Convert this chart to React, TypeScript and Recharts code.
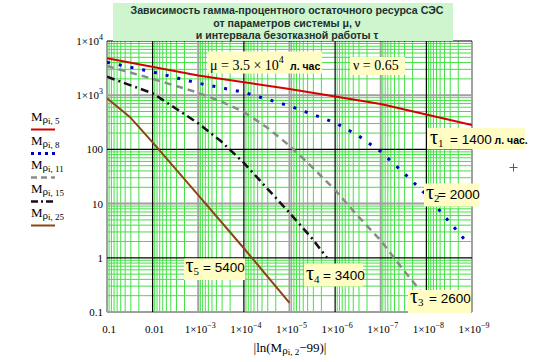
import React from "react";
import { LineChart, Line, XAxis, YAxis, CartesianGrid, Legend } from "recharts";

const SERIF = "'Liberation Serif', 'Times New Roman', serif";
const SANS = "'Liberation Sans', Arial, sans-serif";
const YELLOW = "#fffcc4";

// x = |ln(Mp)|, axis runs from 0.1 (left) down to 1e-9 (right)
const xTau1 = [1e-1, 1e-3, 1e-5, 1e-7, 1e-9];
const mTau1 = [4800, 2300, 1300, 690, 282];

const xTau2 = [1e-1, 1e-2, 1e-3, 1e-4, 1e-5, 1e-6, 3.16e-7, 1e-7, 3.16e-8, 1e-8, 3.16e-9, 1.26e-9];
const mTau2 = [4050, 2690, 1670, 1130, 634, 311, 182, 91, 37, 14.5, 4.6, 1.9];

const xTau3 = [1e-1, 1e-2, 1e-3, 3.16e-4, 1e-4, 3.16e-5, 1e-5, 3.16e-6, 1e-6, 3.16e-7, 1e-7, 3.16e-8, 2.1e-8, 6.0e-9];
const mTau3 = [3470, 2000, 1110, 767, 490, 257, 117, 46.8, 17.8, 5.86, 2.08, 0.59, 0.39, 0.1];

const xTau4 = [1e-1, 1e-2, 3.16e-3, 1e-3, 3.16e-4, 1e-4, 3.16e-5, 1e-5, 3.16e-6, 1.51e-6];
const mTau4 = [2190, 1084, 575, 302, 141, 56.2, 19.5, 6.76, 2.24, 1.0];

const xTau5 = [1e-1, 3.16e-2, 1e-2, 1e-3, 1e-4, 1e-5];
const mTau5 = [877, 398, 135, 14.3, 1.5, 0.148];

const xTicks = [1e-1, 1e-2, 1e-3, 1e-4, 1e-5, 1e-6, 1e-7, 1e-8, 1e-9];
const yTicks = [0.1, 1, 10, 100, 1000, 10000];

const toRows = (xs: number[], ms: number[]) => xs.map((x, i) => ({ x, m: ms[i] }));

const series = [
  { idx: "5", data: toRows(xTau1, mTau1), color: "#d40000", width: 2, dash: undefined, legendDash: undefined },
  { idx: "8", data: toRows(xTau2, mTau2), color: "#0000c8", width: 3, dash: "3 9", legendDash: "3 4" },
  { idx: "11", data: toRows(xTau3, mTau3), color: "#8a8a8a", width: 2.5, dash: "7 5", legendDash: "6 4" },
  { idx: "15", data: toRows(xTau4, mTau4), color: "#1e0a1e", width: 2.5, dash: "8 4 2 4", legendDash: "7 3 2 3" },
  { idx: "25", data: toRows(xTau5, mTau5), color: "#8b4513", width: 2, dash: undefined, legendDash: undefined },
];

// log grid: 2..9 inside every decade
const minors = (from: number, to: number) => {
  const out: number[] = [];
  for (let e = from; e < to; e++) for (let k = 2; k <= 9; k++) out.push(k * Math.pow(10, e));
  return out;
};
const yMinor = minors(-1, 4);
const xMinor = minors(-9, -1);

const XTick = (props: any) => {
  const { x, y, payload } = props;
  const v = payload.value as number;
  const e = Math.round(Math.log10(v));
  return (
    <text x={x + 2} y={y + 21} textAnchor="middle" fontFamily={SERIF} fontSize={11} fill="#000">
      {e >= -2 ? String(v) : "1×10"}
      {e < -2 && <tspan dy={-5} fontSize={8}>{"\u2212" + -e}</tspan>}
    </text>
  );
};

const YTick = (props: any) => {
  const { x, y, payload } = props;
  const v = payload.value as number;
  const e = Math.round(Math.log10(v));
  return (
    <text x={x - 4} y={y + 4} textAnchor="end" fontFamily={SERIF} fontSize={11} fill="#000">
      {e <= 2 ? String(v) : "1×10"}
      {e > 2 && <tspan dy={-5} fontSize={8}>{e}</tspan>}
    </text>
  );
};

const renderLegend = () => (
  <svg width={100} height={240} style={{ display: "block" }}>
    {series.map((s, i) => {
      const ty = 121 + i * 24;
      const ly = 129.5 + i * 24;
      return (
        <g key={s.idx}>
          <text x={31} y={ty} fontFamily={SERIF} fontSize={13} fill="#000">
            M<tspan fontSize={11} dy={2}>ρ</tspan>
            <tspan fontSize={9} dy={1}>{"i, " + s.idx}</tspan>
          </text>
          <line x1={31} x2={55} y1={ly} y2={ly} stroke={s.color} strokeWidth={s.width} strokeDasharray={s.legendDash} />
        </g>
      );
    })}
  </svg>
);

const TauNote = ({ x, y, w, h, tx, vx, base, sub, value, unit }: any) => (
  <g>
    <rect x={x} y={y} width={w} height={h} fill={YELLOW} />
    <text x={tx} y={base} fontFamily={SERIF} fontSize={20} fill="#000">
      τ<tspan fontSize={11} dy={3}>{sub}</tspan>
    </text>
    <text x={vx} y={base} fontFamily={SANS} fontSize={13.5} fill="#000">
      {value}
      {unit && <tspan fontSize={10.5} fontWeight="bold">{" " + unit}</tspan>}
    </text>
  </g>
);

export default function App() {
  return (
    <div style={{ position: "absolute", left: 0, top: 0, width: 558, height: 362, background: "#fff" }}>
      <LineChart width={558} height={362} margin={{ top: 41, right: 86, bottom: 0, left: 0 }}>
        <CartesianGrid horizontalValues={yMinor} verticalValues={xMinor} stroke="#44e044" strokeWidth={1} />
        <CartesianGrid horizontalValues={[0.1, 10, 1000]} verticalValues={[1e-1, 1e-3, 1e-5, 1e-7, 1e-9]} stroke="#a0a0a0" strokeWidth={2} />
        <CartesianGrid horizontalValues={[1, 100, 10000]} verticalValues={[1e-2, 1e-4, 1e-6, 1e-8]} stroke="#000" strokeWidth={1.2} />
        <XAxis
          dataKey="x"
          type="number"
          scale="log"
          domain={[1e-9, 0.1]}
          reversed
          allowDataOverflow
          ticks={xTicks}
          interval={0}
          tick={<XTick />}
          tickSize={0}
          tickMargin={0}
          axisLine={false}
          tickLine={false}
          height={50}
        />
        <YAxis
          type="number"
          scale="log"
          domain={[0.1, 10000]}
          allowDataOverflow
          ticks={yTicks}
          interval={0}
          tick={<YTick />}
          tickSize={0}
          tickMargin={0}
          axisLine={false}
          tickLine={false}
          width={107}
        />
        <Legend
          layout="vertical"
          align="center"
          verticalAlign="middle"
          content={renderLegend}
          wrapperStyle={{ left: 0, top: 0, width: 100, height: 240 }}
        />
        {series.map((s) => (
          <Line
            key={s.idx}
            data={s.data}
            dataKey="m"
            name={"Mρi," + s.idx}
            type="linear"
            stroke={s.color}
            strokeWidth={s.width}
            strokeDasharray={s.dash}
            dot={false}
            activeDot={false}
            isAnimationActive={false}
          />
        ))}
      </LineChart>

      <svg width={558} height={362} style={{ position: "absolute", left: 0, top: 0, pointerEvents: "none" }}>
        <rect x={113} y={3} width={340} height={38} fill="#cef5ce" />
        <g fontFamily={SANS} fontWeight="bold" fontSize={10.6} fill="#1c3030" textAnchor="middle">
          <text x={287} y={14}>Зависимость гамма-процентного остаточного ресурса СЭС</text>
          <text x={287} y={26.5}>от параметров системы μ, ν</text>
          <text x={287} y={38.5}>и интервала безотказной работы τ</text>
        </g>

        <rect x={207} y={51.5} width={115} height={22} fill={YELLOW} />
        <text x={210} y={69.5} fontFamily={SERIF} fontSize={14} fill="#000">
          μ = 3.5 × 10<tspan dy={-7} fontSize={10}>4</tspan>
        </text>
        <text x={290} y={69.5} fontFamily={SANS} fontSize={10.5} fontWeight="bold" fill="#000">л. час</text>

        <rect x={350} y={57} width={55} height={18} fill={YELLOW} />
        <text x={353} y={70} fontFamily={SERIF} fontSize={14} fill="#000">ν = 0.65</text>

        <TauNote x={427} y={128} w={98} h={21.5} tx={430} vx={450} base={144} sub="1" value="= 1400" unit="л. час." />
        <TauNote x={424} y={183.5} w={55} h={23} tx={426} vx={438} base={198.5} sub="2" value="= 2000" />
        <TauNote x={408} y={290} w={63} h={23} tx={410} vx={429} base={303} sub="3" value="= 2600" />
        <TauNote x={304} y={263.5} w={59} h={23} tx={306} vx={323} base={280} sub="4" value="= 3400" />
        <TauNote x={184} y={258.5} w={61} h={21.5} tx={185.5} vx={203} base={272} sub="5" value="= 5400" />

        <g stroke="#e02020" strokeWidth={1}>
          <line x1={509.5} x2={517.5} y1={167.5} y2={167.5} />
          <line x1={513.5} x2={513.5} y1={163.5} y2={171.5} />
        </g>

        <text x={290} y={352} textAnchor="middle" fontFamily={SERIF} fontSize={13} fill="#000">
          |ln(M<tspan fontSize={11} dy={2}>ρ</tspan>
          <tspan fontSize={9} dy={1}>i, 2</tspan>
          <tspan dy={-3}>−99)|</tspan>
        </text>
      </svg>
    </div>
  );
}
